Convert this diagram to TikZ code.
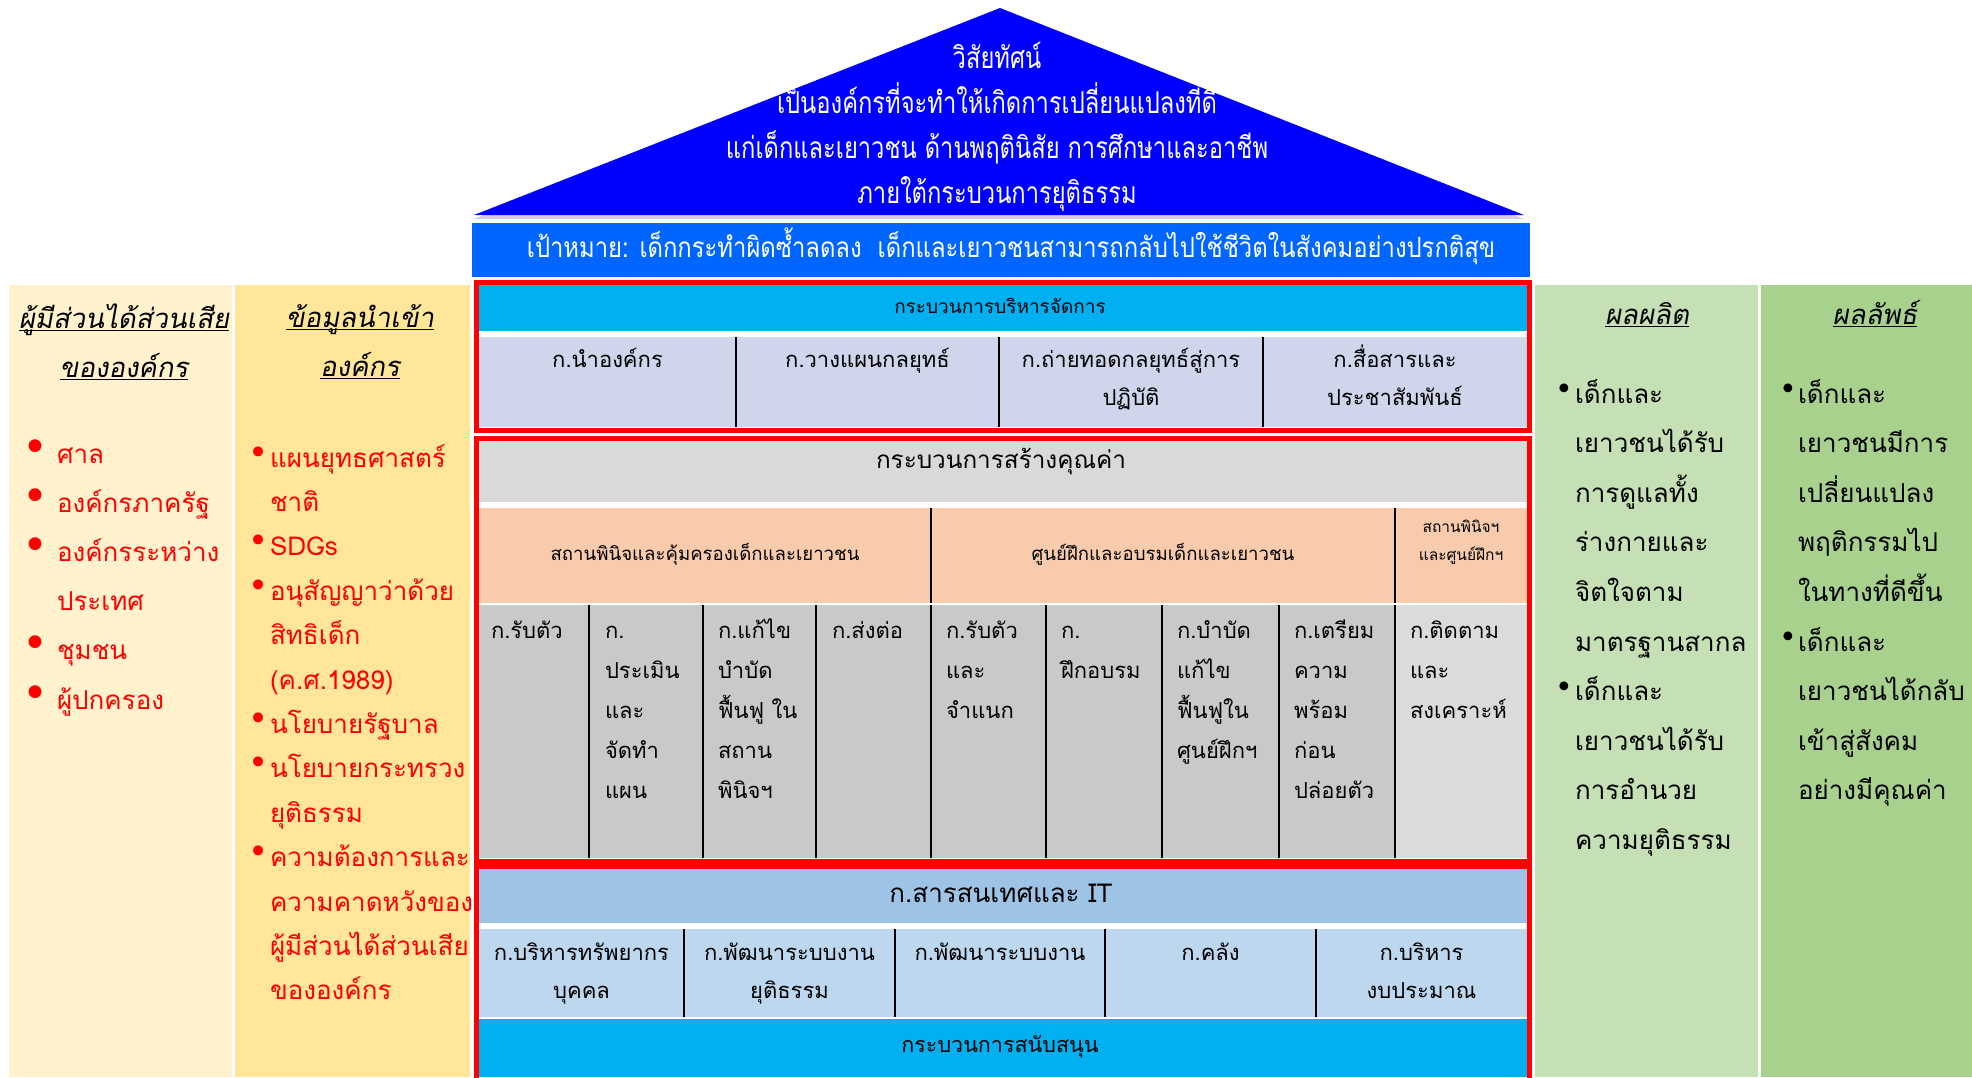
\documentclass[tikz,border=0pt]{standalone}
\usepackage{fontspec}
\setmainfont[Script=Thai]{Loma}
\newfontfamily\thaiit[Script=Thai,FakeSlant=0.18]{Loma}
\newfontfamily\thaicond[Script=Thai,FakeStretch=0.79]{Loma}
\newfontfamily\thaigoal[Script=Thai,FakeStretch=0.85]{Loma}
\newfontfamily\dejavu{DejaVu Sans}
\usetikzlibrary{shadows}
\definecolor{tri}{RGB}{0,0,255}
\definecolor{goalblue}{RGB}{0,102,255}
\definecolor{cyanh}{RGB}{0,176,240}
\definecolor{lavrow}{RGB}{207,213,234}
\definecolor{grayh}{RGB}{217,217,217}
\definecolor{peach}{RGB}{248,203,173}
\definecolor{cellg}{RGB}{201,201,201}
\definecolor{cellgb}{RGB}{219,219,219}
\definecolor{ith}{RGB}{157,195,230}
\definecolor{itrow}{RGB}{189,215,238}
\definecolor{yela}{RGB}{255,242,204}
\definecolor{yelb}{RGB}{255,230,153}
\definecolor{grna}{RGB}{197,224,180}
\definecolor{grnb}{RGB}{169,209,142}
\definecolor{boxred}{RGB}{255,0,0}
\newcommand\fsz[2]{\fontsize{#1}{#2}\selectfont\lineskiplimit=-100pt}
\newcommand\tl[1]{\rule{0pt}{#1pt}}
\newsavebox\ulbox
\newcommand\ul[1]{\sbox\ulbox{#1}\rlap{\rule[-3pt]{\wd\ulbox}{1.3pt}}\usebox\ulbox}
\newcommand\rbul{\makebox[34pt][l]{\raisebox{1pt}{\dejavu\fontsize{44}{44}\selectfont •}}}
\newcommand\ybul{\makebox[22pt][l]{\raisebox{3pt}{\dejavu\fontsize{34}{34}\selectfont •}}}
\newcommand\gbul[1]{\makebox[#1pt][l]{\raisebox{3.5pt}{\dejavu\fontsize{30}{30}\selectfont •}}}
\begin{document}
\begin{tikzpicture}[x=1pt,y=-1pt,
  txt/.style={inner sep=0pt,outer sep=0pt,text=black},
  cell/.style={txt,anchor=north west,align=left,font=\fsz{22}{40}},
  lavtext/.style={txt,anchor=north,align=center,font=\fsz{22}{38}},
  redbox/.style={draw=boxred,line width=5pt},
  divider/.style={draw=black,line width=2.5pt},
]
\useasboundingbox (0,0) rectangle (1972,1077);
\fill[white] (0,0) rectangle (1972,1077);
% side columns
\fill[yela] (9,285) rectangle (232,1077);
\fill[yelb] (235,285) rectangle (470,1077);
\fill[grna] (1535,285) rectangle (1758,1077);
\fill[grnb] (1761,285) rectangle (1972,1077);
% roof
\fill[tri,drop shadow={shadow xshift=0pt,shadow yshift=-4pt,opacity=0.35}] (1000,8) -- (1524,215) -- (474,215) -- cycle;
\fill[goalblue] (472,223) rectangle (1530,277);
% management box
\fill[cyanh] (479,285) rectangle (1527,331);
\fill[lavrow] (479,337) rectangle (1527,427);
\draw[divider] (736,337) -- (736,427);
\draw[divider] (999,337) -- (999,427);
\draw[divider] (1263,337) -- (1263,427);
\draw[redbox] (476.5,282.5) rectangle (1529.5,430.5);
% value box
\fill[grayh] (479,441) rectangle (1527,502);
\fill[peach] (479,508) rectangle (1527,603);
\fill[cellg] (479,605) rectangle (1395,858);
\fill[cellgb] (1395,605) rectangle (1527,858);
\draw[divider] (931,508) -- (931,603);
\draw[divider] (1395,508) -- (1395,603);
\foreach \xx in {589,703,816,931,1046,1162,1279,1395}{\draw[divider] (\xx,605) -- (\xx,858);}
\draw[redbox] (476.5,438.5) rectangle (1529.5,861);
% support box
\fill[ith] (479,868) rectangle (1527,923);
\fill[itrow] (479,929) rectangle (1527,1017);
\fill[cyanh] (479,1019) rectangle (1527,1077);
\foreach \xx in {684,895,1105,1316}{\draw[divider] (\xx,929) -- (\xx,1017);}
\draw[redbox] (476.5,1085) -- (476.5,866) -- (1529.5,866) -- (1529.5,1085);

% roof text
\node[txt,anchor=north,align=center,text=white,font=\thaicond\fsz{30}{45}] (vision) at (997,35)
  {\tl{33}วิสัยทัศน์\\เป็นองค์กรที่จะทำให้เกิดการเปลี่ยนแปลงที่ดี\\แก่เด็กและเยาวชน ด้านพฤตินิสัย การศึกษาและอาชีพ\\ภายใต้กระบวนการยุติธรรม};
\node[txt,anchor=base,text=white,font=\thaigoal\fsz{28}{28}] (goal) at (1011,257)
  {เป้าหมาย: เด็กกระทำผิดซ้ำลดลง\ \ เด็กและเยาวชนสามารถกลับไปใช้ชีวิตในสังคมอย่างปรกติสุข};

% management texts
\node[txt,anchor=base,font=\fsz{19}{19}] (mgmt) at (1000,313) {กระบวนการบริหารจัดการ};
\node[lavtext] (m1) at (607.5,341) {\tl{26}ก.นำองค์กร};
\node[lavtext] (m2) at (867.5,341) {\tl{26}ก.วางแผนกลยุทธ์};
\node[lavtext] (m3) at (1131,341) {\tl{26}ก.ถ่ายทอดกลยุทธ์สู่การ\\ปฏิบัติ};
\node[lavtext] (m4) at (1395,341) {\tl{26}ก.สื่อสารและ\\ประชาสัมพันธ์};

% value texts
\node[txt,anchor=base,font=\fsz{24.3}{24}] (value) at (1001,468) {กระบวนการสร้างคุณค่า};
\node[txt,anchor=base,font=\fsz{18.6}{19}] (p1) at (705,560) {สถานพินิจและคุ้มครองเด็กและเยาวชน};
\node[txt,anchor=base,font=\fsz{18.6}{19}] (p2) at (1163,560) {ศูนย์ฝึกและอบรมเด็กและเยาวชน};
\node[txt,anchor=north,align=center,font=\fsz{15.5}{28}] (p3) at (1461,512) {\tl{20}สถานพินิจฯ\\และศูนย์ฝึกฯ};
\node[cell] (c1) at (491,612) {\tl{26}ก.รับตัว};
\node[cell] (c2) at (605,612) {\tl{26}ก.\\ประเมิน\\และ\\จัดทำ\\แผน};
\node[cell] (c3) at (718,612) {\tl{26}ก.แก้ไข\\บำบัด\\ฟื้นฟู ใน\\สถาน\\พินิจฯ};
\node[cell] (c4) at (832,612) {\tl{26}ก.ส่งต่อ};
\node[cell] (c5) at (946,612) {\tl{26}ก.รับตัว\\และ\\จำแนก};
\node[cell] (c6) at (1061,612) {\tl{26}ก.\\ฝึกอบรม};
\node[cell] (c7) at (1177,612) {\tl{26}ก.บำบัด\\แก้ไข\\ฟื้นฟูใน\\ศูนย์ฝึกฯ};
\node[cell] (c8) at (1294,612) {\tl{26}ก.เตรียม\\ความ\\พร้อม\\ก่อน\\ปล่อยตัว};
\node[cell] (c9) at (1410,612) {\tl{26}ก.ติดตาม\\และ\\สงเคราะห์};

% support texts
\node[txt,anchor=base,font=\fsz{26}{26}] (it) at (1001,902) {ก.สารสนเทศและ IT};
\node[lavtext] (s1) at (581.5,934) {\tl{26}ก.บริหารทรัพยากร\\บุคคล};
\node[lavtext] (s2) at (789.5,934) {\tl{26}ก.พัฒนาระบบงาน\\ยุติธรรม};
\node[lavtext] (s3) at (1000,934) {\tl{26}ก.พัฒนาระบบงาน};
\node[lavtext] (s4) at (1210.5,934) {\tl{26}ก.คลัง};
\node[lavtext] (s5) at (1421.5,934) {\tl{26}ก.บริหาร\\งบประมาณ};
\node[txt,anchor=base,font=\fsz{21.5}{22}] (support) at (1000,1052) {กระบวนการสนับสนุน};

% left columns
\node[txt,anchor=north,align=center,font=\thaiit\fsz{27.5}{49}] (hstake) at (124,293)
  {\tl{35}\ul{ผู้มีส่วนได้ส่วนเสีย}\\\ul{ขององค์กร}};
\node[txt,anchor=north west,align=left,text=boxred,font=\fsz{26}{49.2}] (stake) at (23,429)
  {\tl{34}\rbul ศาล\\\rbul องค์กรภาครัฐ\\\rbul องค์กรระหว่าง\\\hspace*{34pt}ประเทศ\\\rbul ชุมชน\\\rbul ผู้ปกครอง};
\node[txt,anchor=north,align=center,font=\thaiit\fsz{27.5}{49}] (hinput) at (360,292)
  {\tl{35}\ul{ข้อมูลนำเข้า}\\\ul{องค์กร}};
\node[txt,anchor=north west,align=left,text=boxred,font=\fsz{26}{44.4}] (inputs) at (248,435)
  {\tl{32}\ybul แผนยุทธศาสตร์\\\hspace*{22pt}ชาติ\\\ybul SDGs\\\ybul อนุสัญญาว่าด้วย\\\hspace*{22pt}สิทธิเด็ก\\\hspace*{22pt}(ค.ศ.1989)\\\ybul นโยบายรัฐบาล\\\ybul นโยบายกระทรวง\\\hspace*{22pt}ยุติธรรม\\\ybul ความต้องการและ\\\hspace*{22pt}ความคาดหวังของ\\\hspace*{22pt}ผู้มีส่วนได้ส่วนเสีย\\\hspace*{22pt}ขององค์กร};

% right columns
\node[txt,anchor=base,font=\thaiit\fsz{27.5}{29}] (hout) at (1647,324) {\ul{ผลผลิต}};
\node[txt,anchor=north west,align=left,font=\fsz{26}{49.6}] (outputs) at (1555,369)
  {\tl{34}\gbul{20}เด็กและ\\\hspace*{20pt}เยาวชนได้รับ\\\hspace*{20pt}การดูแลทั้ง\\\hspace*{20pt}ร่างกายและ\\\hspace*{20pt}จิตใจตาม\\\hspace*{20pt}มาตรฐานสากล\\\gbul{20}เด็กและ\\\hspace*{20pt}เยาวชนได้รับ\\\hspace*{20pt}การอำนวย\\\hspace*{20pt}ความยุติธรรม};
\node[txt,anchor=base,font=\thaiit\fsz{27.5}{29}] (hres) at (1875,324) {\ul{ผลลัพธ์}};
\node[txt,anchor=north west,align=left,font=\fsz{26}{49.6}] (outcomes) at (1779,369)
  {\tl{34}\gbul{19}เด็กและ\\\hspace*{19pt}เยาวชนมีการ\\\hspace*{19pt}เปลี่ยนแปลง\\\hspace*{19pt}พฤติกรรมไป\\\hspace*{19pt}ในทางที่ดีขึ้น\\\gbul{19}เด็กและ\\\hspace*{19pt}เยาวชนได้กลับ\\\hspace*{19pt}เข้าสู่สังคม\\\hspace*{19pt}อย่างมีคุณค่า};
\end{tikzpicture}
\end{document}
